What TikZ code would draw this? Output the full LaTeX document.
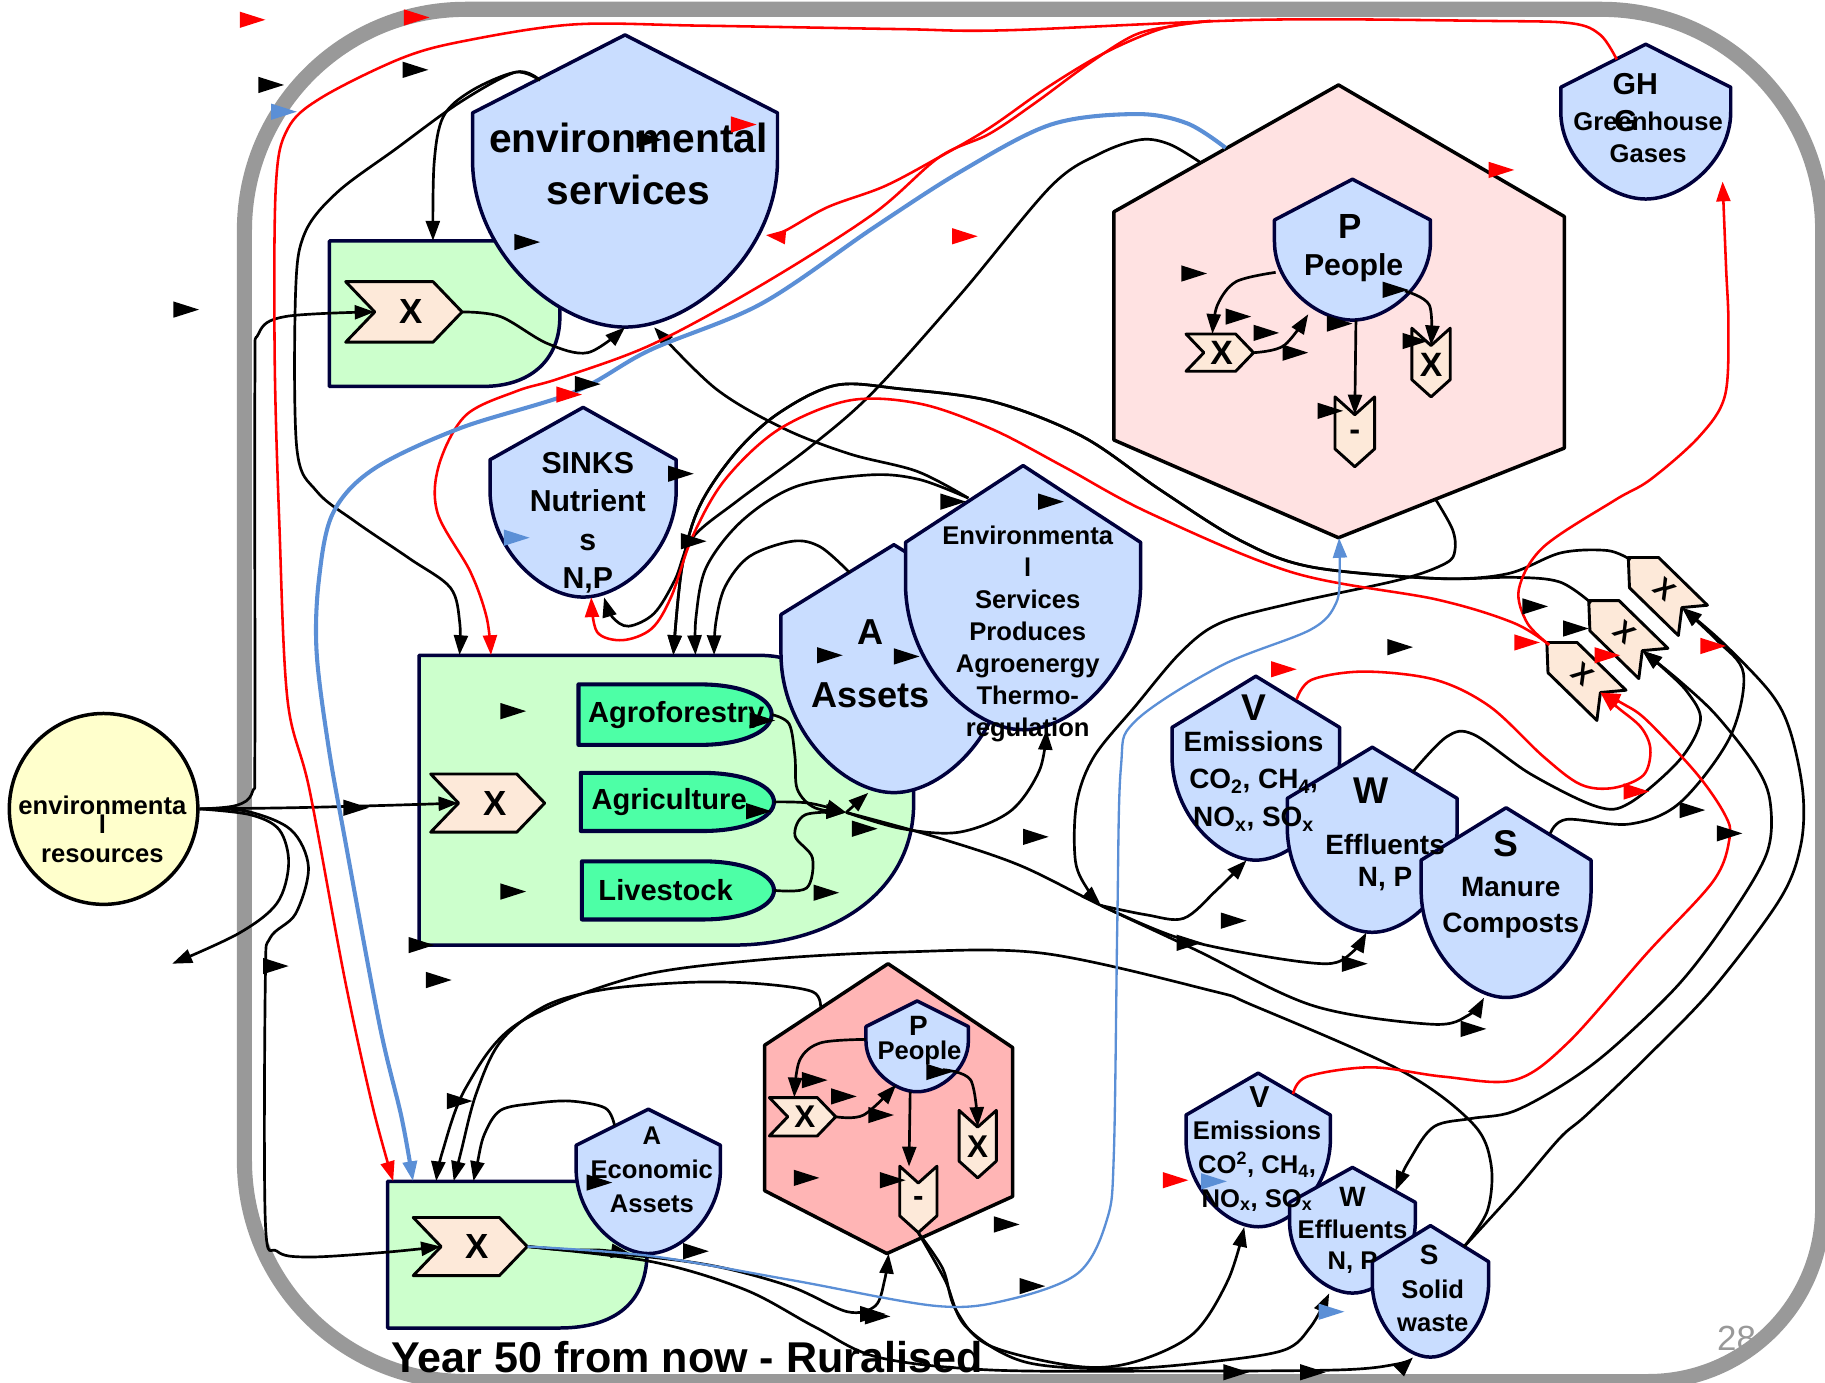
\documentclass[tikz,border=0pt]{standalone}
\usepackage{fontspec}
\setmainfont{Liberation Sans}
\usetikzlibrary{arrows.meta,shapes.geometric}

\definecolor{shieldblue}{RGB}{201,221,255}
\definecolor{navy}{RGB}{0,0,60}
\definecolor{boxgreen}{RGB}{204,255,204}
\definecolor{cropgreen}{RGB}{77,255,166}
\definecolor{peach}{RGB}{253,233,217}
\definecolor{hexpink}{RGB}{255,226,226}
\definecolor{hexrose}{RGB}{255,181,181}
\definecolor{resyellow}{RGB}{255,255,204}
\definecolor{framegray}{RGB}{153,153,153}
\definecolor{linkblue}{RGB}{91,143,214}

% shield: name, centre x, top, half width, shoulder y, bottom
\newcommand{\shield}[6]{%
  \pgfmathsetmacro{\shA}{#5+0.22*(#6-#5)}%
  \pgfmathsetmacro{\shB}{#5+0.65*(#6-#5)}%
  \pgfmathsetmacro{\shL}{#2-#4}%
  \pgfmathsetmacro{\shR}{#2+#4}%
  \pgfmathsetmacro{\shl}{#2-0.45*#4}%
  \pgfmathsetmacro{\shr}{#2+0.45*#4}%
  \filldraw[shieldbox] (#2,#3) -- (\shR,#5) -- (\shR,\shA) .. controls (\shR,\shB) and (\shr,#6) .. (#2,#6)
    .. controls (\shl,#6) and (\shL,\shB) .. (\shL,\shA) -- (\shL,#5) -- cycle;
  \node[bbox={2*#4}{#6-#3}] (#1) at (#2,{(#3+#6)/2}) {};}

% chevron to the right: name, left, top, width, height, label, size
\newcommand{\hchev}[7]{%
  \pgfmathsetmacro{\chD}{0.48*#5}%
  \filldraw[chev] (#2,#3) -- ({#2+#4-\chD},#3) -- ({#2+#4},{#3+#5/2}) -- ({#2+#4-\chD},{#3+#5}) -- (#2,{#3+#5}) -- ({#2+\chD},{#3+#5/2}) -- cycle;
  \node[bbox={#4-\chD}{#5}, label={[txt={#7}{#7}, xshift=-6pt, name=#1lbl]center:#6}] (#1) at ({#2+(\chD+#4)/2},{#3+#5/2}) {};}

% chevron downwards
\newcommand{\vchev}[7]{%
  \pgfmathsetmacro{\chD}{0.45*#4}%
  \filldraw[chev] (#2,#3) -- ({#2+#4/2},{#3+\chD}) -- ({#2+#4},#3) -- ({#2+#4},{#3+#5-\chD}) -- ({#2+#4/2},{#3+#5}) -- (#2,{#3+#5-\chD}) -- cycle;
  \node[bbox={#4}{#5-\chD}, label={[txt={#7}{#7}, yshift=5pt, name=#1lbl]center:#6}] (#1) at ({#2+#4/2},{#3+(\chD+#5)/2}) {};}

% chevron slanted (right hand group)
\newcommand{\dchev}[3]{%
  \filldraw[chev] (#2,#3) -- ({#2+26},#3) -- ({#2+68},{#3+41}) -- ({#2+46},{#3+43}) -- ({#2+43},{#3+67}) -- ({#2+1},{#3+26}) -- cycle;
  \coordinate (#1in) at ({#2+46},{#3+43});
  \coordinate (#1out) at ({#2+2},{#3+2});
  \node[txt={24}{24}, rotate=-40] (#1) at ({#2+31},{#3+27}) {X};}

% crop box
\newcommand{\crop}[7]{%
  \filldraw[cropbox] (#2,#3) -- ({#4-62},#3) .. controls ({#4-22},#3) and (#4,{#3+0.25*(#5-#3)}) .. (#4,{(#3+#5)/2})
    .. controls (#4,{#5-0.25*(#5-#3)}) and ({#4-22},#5) .. ({#4-62},#5) -- (#2,#5) -- cycle;
  \node[bbox={#4-#2}{#5-#3}] (#1) at ({(#2+#4)/2},{(#3+#5)/2}) {};
  \node[txt={25}{25}, anchor=west] (#1lbl) at ({#2+#7},{(#3+#5)/2}) {#6};}

\begin{document}
\begin{tikzpicture}[x=1pt, y=-1pt, line join=round,
  txt/.style 2 args={font=\bfseries\fontsize{#1}{#2}\selectfont, align=center, inner sep=0pt},
  bbox/.style 2 args={inner sep=0pt, minimum width=#1, minimum height=#2},
  shieldbox/.style={fill=shieldblue, draw=navy, line width=3pt},
  farmbox/.style={fill=boxgreen, draw=navy, line width=3pt},
  cropbox/.style={fill=cropgreen, draw=navy, line width=3.5pt},
  chev/.style={fill=peach, draw=black, line width=2.5pt},
  hexa/.style={draw=black, line width=3pt},
  link/.style={draw=black, line width=2.3pt, -{Triangle[length=17pt,width=12pt]}},
  twoway/.style={link, {Triangle[length=17pt,width=12pt]}-{Triangle[length=17pt,width=12pt]}},
  redlink/.style={link, draw=red, line width=2.2pt},
  bluelink/.style={link, draw=linkblue, line width=2pt}]

\useasboundingbox (0,0) rectangle (1568,1188);
\node[txt={30}{30}, font=\fontsize{30}{30}\selectfont, text=black!40] (pagelbl) at (1492,1150) {28};
\draw[framegray, line width=13pt] (210,198) .. controls (210,93) and (295,8) .. (400,8) -- (1376,8)
  .. controls (1481,8) and (1566,93) .. (1566,198) -- (1566,1037) .. controls (1566,1120) and (1499,1187) .. (1416,1187)
  -- (400,1187) .. controls (295,1187) and (210,1102) .. (210,997) -- cycle;

% top left
\filldraw[farmbox] (283,207) -- (481,207) -- (481,272) .. controls (481,310) and (455,332) .. (415,332) -- (283,332) -- cycle;
\node[bbox={198}{125}] (topbox) at (382,269.5) {};
\shield{envs}{537}{30}{131}{97}{281}
\node[txt={35}{45}] (envslbl) at (540,141) {environmental\\services};
\hchev{topx}{297}{242}{100}{52}{X}{30}
\shield{sinks}{501}{350}{80}{395}{513}
\node[txt={26}{33}] (sinkslbl) at (505,449) {SINKS\\Nutrient\\s\\N,P};

% production
\filldraw[farmbox] (360,563) -- (650,563) .. controls (668,563) and (676,566) .. (690,570) -- (785,570) -- (785,690) .. controls (785,770) and (710,812) .. (630,812) -- (360,812) -- cycle;
\node[bbox={425}{249}] (bigbox) at (572.5,687.5) {};
\crop{agrof}{497}{588}{663}{640}{Agroforestry}{8}
\crop{agric}{499}{664}{665}{714}{Agriculture}{9}
\crop{livest}{500}{740}{665}{790}{Livestock}{14}
\hchev{bigx}{370}{665}{98}{50}{X}{30}
\shield{assets}{768}{468}{97}{528}{681}
\shield{esp}{879}{400}{101}{466}{627}
\node[txt={31}{54}] (assetslbl) at (748,570) {A\\Assets};
\node[txt={22}{27.5}] (esplbl) at (883,545) {Environmenta\\l\\Services\\Produces\\Agroenergy\\Thermo-\\regulation};

% people
\filldraw[hexa, fill=hexpink] (1150,73) -- (1344,186) -- (1344,385) -- (1150,462) -- (957,378) -- (957,182) -- cycle;
\node[bbox={387}{389}] (hexbig) at (1150.5,267.5) {};
\shield{peop}{1162}{154}{67}{189}{275}
\node[txt={30}{30}] (peoplbl1) at (1160,195) {P};
\node[txt={26}{26}] (peoplbl2) at (1163,230) {People};
\hchev{pplx}{1019}{287}{58}{32}{X}{29}
\vchev{pplxv}{1213}{282}{33}{59}{X}{29}
\vchev{pplminus}{1147}{341}{34}{60}{-}{28}

\shield{ghg}{1414}{38}{73}{75}{171}
\node[txt={26}{26}] (ghglbl1) at (1405,72) {GH};
\node[txt={26}{26}] (ghglbl2) at (1397,104) {G};
\node[txt={22}{28}] (ghglbl3) at (1416,118) {Greenhouse\\Gases};

% outputs
\shield{vup}{1079}{581}{72}{625}{739}
\shield{wup}{1179}{642}{73}{686}{801}
\shield{sup}{1294}{694}{73}{739}{857}
\node[txt={32}{32}] (vuplbl1) at (1077,608) {V};
\node[txt={24}{32.5}] (vuplbl2) at (1077,671) {Emissions\\CO\textsubscript{2}, CH\textsubscript{4},\\NO\textsubscript{x}, SO\textsubscript{x}};
\node[txt={32}{32}] (wuplbl1) at (1178,679) {W};
\node[txt={24}{28}] (wuplbl2) at (1190,741) {Effluents\\N, P};
\node[txt={32}{32}] (suplbl1) at (1294,725) {S};
\node[txt={24}{31}] (suplbl2) at (1298,780) {Manure\\Composts};

\dchev{ch1}{1399}{479}
\dchev{ch2}{1365}{516}
\dchev{ch3}{1329}{552}

% bottom
\filldraw[farmbox] (333,1015) -- (556,1015) -- (556,1075) .. controls (556,1118) and (530,1141) .. (480,1141) -- (333,1141) -- cycle;
\node[bbox={223}{126}] (lowbox) at (444.5,1078) {};
\hchev{lowx}{355}{1046}{98}{50}{X}{30}
\shield{econ}{557}{953}{62}{984}{1077}
\node[txt={22}{29}] (econlbl) at (560,1005) {A\\Economic\\Assets};

\filldraw[hexa, fill=hexrose] (763,828) -- (870,900) -- (870,1028) -- (762,1077) -- (657,1023) -- (657,898) -- cycle;
\node[bbox={213}{249}] (hexlow) at (763.5,952.5) {};
\shield{peoplow}{788}{860}{44}{882}{938}
\node[txt={24}{24}] (peoplowlbl1) at (789,881) {P};
\node[txt={22}{22}] (peoplowlbl2) at (790,905) {People};
\hchev{lowpx}{661}{943}{57}{33}{X}{27}
\vchev{lowpxv}{824}{954}{32}{58}{X}{27}
\vchev{lowpminus}{773}{1002}{32}{57}{-}{27}

\shield{vlow}{1081}{922}{62}{958}{1054}
\shield{wlow}{1162}{1003}{54}{1033}{1111}
\shield{slow}{1229}{1053}{50}{1084}{1166}
\node[txt={26}{26}] (vlowlbl1) at (1082,943) {V};
\node[txt={22}{29}] (vlowlbl2) at (1080,1002) {Emissions\\CO\textsuperscript{2}, CH\textsubscript{4},\\NO\textsubscript{x}, SO\textsubscript{x}};
\node[txt={24}{24}] (wlowlbl1) at (1162,1028) {W};
\node[txt={22}{27}] (wlowlbl2) at (1162,1071) {Effluents\\N, P};
\node[txt={24}{24}] (slowlbl1) at (1228,1078) {S};
\node[txt={22}{28}] (slowlbl2) at (1231,1122) {Solid\\waste};

\node[ellipse, draw=black, fill=resyellow, line width=3pt, minimum width=162pt, minimum height=164pt, inner sep=0pt] (envres) at (89,695) {};
\node[txt={22}{22}] (envreslbl1) at (88,692) {environmenta};
\node[txt={22}{22}] (envreslbl2) at (88,708) {l};
\node[txt={22}{22}] (envreslbl3) at (88,735) {resources};

\node[txt={37}{37}, anchor=west] (titlelbl) at (336,1166) {Year 50 from now - Ruralised};

% ports
\coordinate (envsport) at (464,69);
\coordinate (envsport2) at (658,202);
\coordinate (espport) at (832,428);
\coordinate (hexport1) at (1032,140);
\coordinate (hexport2) at (1234,430);
\coordinate (hexport3) at (1053,127);
\coordinate (assetsport) at (730,492);
\coordinate (jn2) at (727,698);
\coordinate (jn) at (946,778);
\coordinate (slowport) at (1258,1071);
\coordinate (wlowport) at (1199,1023);
\coordinate (support) at (1332,716);
\coordinate (wupport) at (1214,663);
\coordinate (vupport) at (1114,601);
\coordinate (vlowport) at (1111,940);
\coordinate (hexlowport) at (705,867);
\coordinate (econport) at (528,967);
\coordinate (ghgport) at (1389,51);
\coordinate (ghgport2) at (1480,156);
\coordinate (rtop) at (1040,18);
\coordinate (resout) at (148,828);
\coordinate (peopport1) at (1096,234);
\coordinate (peopport2) at (1207,250);
\coordinate (peopport3) at (1124,270);
\coordinate (plowport1) at (744,893);
\coordinate (plowport2) at (770,932);
\coordinate (plowport3) at (810,919);

% resources
\draw[link] plot[smooth, tension=0.55] coordinates {(envres.east) (250,694) (330,692) (bigx.west)};
\draw[link] plot[smooth, tension=0.55] coordinates {(envres.east) (203,692) (217,680) (219,640) (219,330) (222,287) (245,272) (topx.west)};
\draw[link] plot[smooth, tension=0.55] coordinates {(envres.east) (212,697) (250,713) (265,745) (254,785) (232,806) (228,840) (228,1050) (238,1075) (265,1080) (330,1076) (lowx.west)};
\draw[link] plot[smooth, tension=0.55] coordinates {(envres.east) (215,700) (240,713) (248,742) (238,776) (205,802) (resout)};

% environmental services
\draw[link] plot[smooth, tension=0.55] coordinates {(topx.east) (430,272) (470,295) (505,303) (envs.south)};
\draw[link] plot[smooth, tension=0.55] coordinates {(envsport) (443,62) (405,78) (381,100) (373,140) ([xshift=-10pt]topbox.north)};
\draw[link] plot[smooth, tension=0.55] coordinates {(envsport) (443,62) (395,88) (340,128) (290,165) (262,200) (254,250) (255,385) (272,422) (305,448) (352,480) (387,505) (395,535) ([xshift=35pt]bigbox.north west)};
\draw[link] plot[smooth, tension=0.55] coordinates {(espport) (788,405) (730,390) (673,368) (615,334) ([xshift=25pt]envs.south)};
\draw[link] plot[smooth, tension=0.55] coordinates {(espport) (790,412) (748,408) (684,418) (638,447) (607,487) (598,530) ([xshift=25pt]bigbox.north)};
\draw[link] plot[smooth, tension=0.55] coordinates {(hexport1) (1005,124) (980,120) (945,132) (903,160) (826,252) (750,337) (696,384) (634,430) (595,462) (580,498) (562,527) (540,538) (526,530) ([xshift=18pt]sinks.south)};
\draw[link] plot[smooth, tension=0.55] coordinates {(ch2out) (1340,500) (1300,496) (1234,497) (1126,487) (1065,464) (997,421) (930,375) (853,345) (773,334) (718,331) (669,355) (632,389) (601,435) (586,487) ([xshift=6pt]bigbox.north)};
\draw[link] plot[smooth, tension=0.55] coordinates {(ch1out) (1381,473) (1341,475) (1295,493) (1234,497) (1126,487) (1065,464) (997,421) (930,375) (853,345) (773,334) (718,331) (669,355) (632,389) (601,435) (586,487) ([xshift=6pt]bigbox.north)};
\draw[link] plot[smooth, tension=0.55] coordinates {(assetsport) (705,470) (681,465) (644,478) (623,504) (615,535) ([xshift=41pt]bigbox.north)};

% production outputs
\draw[link] plot[smooth, tension=0.55] coordinates {(hexport2) (1248,455) (1250,473) (1242,484) (1203,498) (1111,518) (1049,535) (1015,560) (976,606) (940,650) (925,690) (924,740) (935,765) (jn)};
\draw[link] plot[smooth, tension=0.55] coordinates {(agrof.east) (678,622) (683,650) (685,678) (700,694) (jn2)};
\draw[link] plot[smooth, tension=0.55] coordinates {(agric.east) (695,690) (jn2)};
\draw[link] plot[smooth, tension=0.55] coordinates {(livest.east) (693,763) (698,737) (683,718) (692,700) (jn2)};
\draw[link] (jn2) -- ([xshift=-22pt]assets.south);
\draw[link] plot[smooth, tension=0.55] coordinates {(jn2) (775,712) (824,715) (868,697) (893,662) ([xshift=20pt]esp.south)};
\draw[link] plot[smooth, tension=0.55] coordinates {(jn2) (800,718) (875,743) (jn) (1027,816) (1128,864) (1230,880) (1262,872) ([xshift=-19pt]sup.south)};
\draw[link] plot[smooth, tension=0.55] coordinates {(jn) (985,786) (1017,789) (1045,765) ([xshift=-8pt]vup.south)};
\draw[link] plot[smooth, tension=0.55] coordinates {(jn) (1010,805) (1077,820) (1140,828) (1162,818) ([xshift=-5pt]wup.south)};

% right hand loops
\draw[link] plot[smooth, tension=0.55] coordinates {(slowport) (1300,1025) (1340,978) (1363,958) (1415,908) (1472,849) (1529,773) (1547,727) (1549,681) (1538,628) (1521,595) (1480,552) (ch1in)};
\draw[twoway] plot[smooth, tension=0.55] coordinates {(wlowport) (1212,995) (1232,968) (1264,961) (1300,955) (1346,930) (1386,900) (1443,845) (1486,788) (1518,733) (1521,690) (1509,659) (1475,615) (1443,585) (ch2in)};
\draw[link] plot[smooth, tension=0.55] coordinates {(support) (1346,704) (1400,708) (1443,690) (1486,634) (1498,579) (1475,550) (ch1in)};
\draw[link] plot[smooth, tension=0.55] coordinates {(wupport) (1243,633) (1266,631) (1315,665) (1372,693) (1400,690) (1443,653) (1461,619) (1450,595) (1430,575) (ch2in)};

% lower half
\draw[link] plot[smooth, tension=0.55] coordinates {(slowport) (1278,1040) (1281,1000) (1265,965) (1204,920) (1077,864) (1040,851) (896,819) (773,818) (650,825) (543,840) (444,880) (400,935) (380,990) ([xshift=42pt]lowbox.north west)};
\draw[link] plot[smooth, tension=0.55] coordinates {(hexlowport) (698,852) (650,845) (592,844) (520,850) (469,864) (430,895) (409,940) (396,990) ([xshift=57pt]lowbox.north west)};
\draw[link] plot[smooth, tension=0.55] coordinates {(econport) (520,952) (490,946) (459,948) (430,954) (416,975) (410,1000) ([xshift=74pt]lowbox.north west)};
\draw[link] plot[smooth, tension=0.55] coordinates {(lowx.east) (485,1074) (515,1074) ([xshift=-15pt]econ.south)};
\draw[link] plot[smooth, tension=0.55] coordinates {(lowx.east) (558,1080) (620,1089) (681,1106) (728,1127) (752,1122) (760,1100) (hexlow.south)};
\draw[link] plot[smooth, tension=0.55] coordinates {(lowx.east) (560,1084) (640,1108) (700,1140) (754,1166) (850,1177) (1000,1178) (1150,1177) (1200,1172) ([xshift=-15pt]slow.south)};
\draw[link] plot[smooth, tension=0.55] coordinates {(lowpminus.south) (810,1090) (821,1125) (850,1156) (926,1174) (975,1170) (1025,1146) (1055,1100) ([xshift=-12pt]vlow.south)};
\draw[link] plot[smooth, tension=0.55] coordinates {(lowpminus.south) (812,1100) (830,1140) (880,1170) (960,1176) (1040,1170) (1103,1160) (1126,1140) ([xshift=-20pt]wlow.south)};

% inside the people hexagons
\draw[link] plot[smooth, tension=0.55] coordinates {(peopport1) (1062,242) (1046,262) ([xshift=-14pt]pplx.north)};
\draw[link] plot[smooth, tension=0.55] coordinates {(pplx.east) (1103,297) (peopport3)};
\draw[link] ([xshift=3pt]peop.south) -- (pplminus.north);
\draw[link] plot[smooth, tension=0.55] coordinates {(peopport2) (1228,262) (pplxv.north)};
\draw[link] plot[smooth, tension=0.55] coordinates {(plowport1) (705,896) (687,911) ([xshift=-15pt]lowpx.north)};
\draw[link] plot[smooth, tension=0.55] coordinates {(lowpx.east) (742,958) (plowport2)};
\draw[link] ([xshift=-6pt]peoplow.south) -- ([xshift=-8pt,yshift=14pt]lowpminus.north);
\draw[link] plot[smooth, tension=0.55] coordinates {(plowport3) (834,928) (lowpxv.north)};

% greenhouse gases
\draw[redlink] plot[smooth, tension=0.55] coordinates {(ghgport) (1375,30) (1350,20) (1280,18) (1083,17) (865,26) (773,25) (600,22) (493,21) (400,35) (345,50) (276,84) (247,111) (237,160) (236,307) (240,450) (247,601) (266,679) (296,840) (320,950) ([xshift=5pt]lowbox.north west)};
\draw[redlink] plot[smooth, tension=0.55] coordinates {(rtop) (1000,24) (950,45) (900,75) (850,110) (807,135) (760,160) (711,178) (673,199) (envsport2)};
\draw[redlink] plot[smooth, tension=0.55] coordinates {(rtop) (1010,22) (975,30) (935,55) (890,88) (850,115) (807,135) (750,184) (654,245) (560,296) (481,325) (444,336) (400,357) (377,400) (376,441) (404,491) (418,530) ([xshift=62pt]bigbox.north west)};
\draw[redlink] plot[smooth, tension=0.55] coordinates {(vupport) (1127,584) (1172,577) (1233,584) (1280,607) (1326,650) (1358,674) (1386,677) (1412,666) (1418,644) (1410,625) (1390,608) (ch3in)};
\draw[redlink] plot[smooth, tension=0.55] coordinates {(vlowport) (1123,925) (1178,917) (1240,925) (1301,928) (1347,896) (1415,819) (1472,757) (1486,720) (1482,700) (1458,665) (1415,619) (1395,605) (ch3in)};
\draw[redlink] plot[smooth, tension=0.55] coordinates {(ch3out) (1312,535) (1305,506) (1326,470) (1387,430) (1418,412) (1460,375) (1482,340) (1485,280) (1483,230) (ghgport2)};
\draw[redlink] plot[smooth, tension=0.55] coordinates {(ch3out) (1300,535) (1234,515) (1111,492) (988,441) (914,401) (853,369) (791,347) (730,344) (669,369) (623,412) (595,461) (577,512) (560,540) (535,550) (513,543) ([xshift=7pt]sinks.south)};

% blue
\draw[bluelink, line width=3.5pt] plot[smooth, tension=0.55] coordinates {(hexport3) (1020,106) (976,98) (903,107) (826,147) (750,196) (654,261) (558,301) (493,337) (395,368) (321,403) (286,441) (274,498) (272,560) (282,640) (296,719) (326,880) (345,960) ([xshift=22pt]lowbox.north west)};
\draw[bluelink] plot[smooth, tension=0.55] coordinates {(lowx.east) (558,1079) (681,1100) (804,1122) (865,1117) (926,1094) (951,1048) (957,991) (960,790) (963,660) (975,620) (1049,572) (1126,541) (1148,518) (1151,490) (hexbig.south)};

% loose arrow heads
\foreach \x/\y in {233/73, 357/60, 160/266, 453/208, 558/120, 505/330, 585/407, 596/465, 441/611, 441/766, 710/767, 713/563, 779/564, 819/431, 903/431, 890/719, 1026/235, 1064/272, 1088/286, 1113/303, 1151/278, 1143/353, 1216/293, 1199/249, 1203/556, 1319/521, 1354/540, 1454/696, 1486/716, 1060/791, 1022/810, 1164/828, 1266/884, 377/842, 237/830, 306/694, 362/812, 395/946, 515/1016, 598/1075, 750/1129, 725/942, 700/928, 757/958, 693/1012, 767/1014, 807/921, 865/1052, 887/1105, 754/1131, 1062/1179, 1128/1179, 655/619, 652/697, 743/712}
  \fill ({\x-11},{\y-7}) -- ({\x+11},\y) -- ({\x-11},{\y+7}) -- cycle;
\foreach \x/\y in {217/17, 358/15, 639/107, 829/203, 1290/146, 1103/575, 489/339, 1312/552, 1381/563, 1472/555, 1406/680, 1010/1014}
  \fill[red] ({\x-11},{\y-7}) -- ({\x+11},\y) -- ({\x-11},{\y+7}) -- cycle;
\foreach \x/\y in {244/96, 444/462, 1043/1015, 1144/1127}
  \fill[linkblue] ({\x-11},{\y-7}) -- ({\x+11},\y) -- ({\x-11},{\y+7}) -- cycle;
\end{tikzpicture}
\end{document}
